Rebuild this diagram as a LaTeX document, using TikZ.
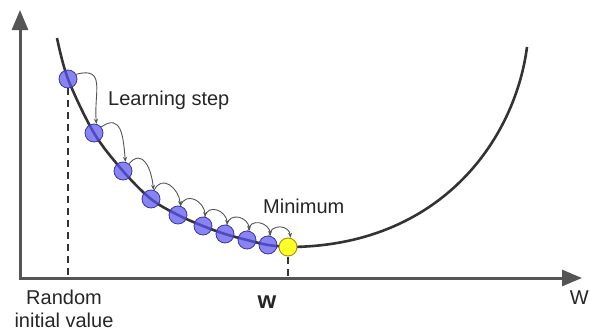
\documentclass[tikz,border=0pt]{standalone}
\usepackage{fontspec}
\setmainfont{Liberation Sans}
\usetikzlibrary{arrows.meta, positioning}
\definecolor{axisgray}{HTML}{555555}
\definecolor{curvegray}{HTML}{333333}
\definecolor{ballblue}{HTML}{5B55F0}
\definecolor{balledge}{HTML}{3A36A8}
\definecolor{minyellow}{HTML}{FFFF2A}
\definecolor{minedge}{HTML}{A89A00}
\tikzset{
    axis/.style={
        line width=3pt, draw=axisgray
    },
    costcurve/.style={
        line width=2.6pt, draw=curvegray
    },
    guide/.style={
        line width=1.8pt, draw=curvegray, dash pattern=on 7pt off 5pt
    },
    ball/.style={
        circle, minimum size=18pt, inner sep=0pt, fill=ballblue,
        fill opacity=0.72, draw=balledge, line width=0.8pt
    },
    minball/.style={
        circle, minimum size=18pt, inner sep=0pt, fill=minyellow,
        draw=minedge, line width=1pt
    },
    stepline/.style={
        -{Stealth[length=5pt,width=4pt]}, line width=0.9pt, draw=axisgray
    },
    txt/.style={
        font=\fontsize{20}{23}\selectfont, text=black!85, inner sep=0pt
    }
}

\begin{document}
\begin{tikzpicture}[x=1pt, y=-1pt]

    \useasboundingbox (0,0) rectangle (590,332);

    % axes
    \coordinate (origin) at (20,278);
    \coordinate (ytip)   at (20,10);
    \coordinate (xtip)   at (582,278);
    \draw[axis, {Triangle[length=20pt,width=16pt]}-{Triangle[length=20pt,width=16pt]}]
        (ytip) -- (origin) -- (xtip);

    % cost curve
    \draw[costcurve] plot[smooth, tension=0.55] coordinates {
        (57,38) (68,79) (94,133) (123,171) (151,199) (178,215) (203,226)
        (225,234) (247,240) (268,245) (288,247)}
        .. controls (440,247) and (515,140) .. (527,47);

    % steps
    \foreach \name/\x/\y in {b1/68/79, b2/94/133, b3/123/171, b4/151/199,
                             b5/178/215, b6/203/226, b7/225/234, b8/247/240, b9/268/245}
        \node[ball] (\name) at (\x,\y) {};
    \node[minball] (wmin) at (288,247) {};

    \foreach \from/\to/\s/\o in {b1/b2/30/15, b2/b3/40/35, b3/b4/50/50, b4/b5/70/65,
                                 b5/b6/75/70, b6/b7/80/75, b7/b8/80/75, b8/b9/85/80,
                                 b9/wmin/85/80}
        \draw[stepline] (\from.\s) to[out=\o, in=95, looseness=1.5] (\to.75);

    \draw[guide] (b1.south)   -- (b1.south |- origin);
    \draw[guide] (wmin.south) -- (wmin.south |- origin);

    % labels
    \node[txt, anchor=west] (steplbl) at (108,100) {Learning step};
    \node[txt, anchor=west] (minlbl)  at (263,206) {Minimum};
    \node[txt, align=center] (initlbl) at (64,309) {Random\\initial value};
    \node[txt, font=\fontsize{24}{26}\selectfont\bfseries] (wlbl) at (267,302) {w};
    \node[txt, anchor=east] (axislbl) at (589,298) {W};

\end{tikzpicture}
\end{document}
